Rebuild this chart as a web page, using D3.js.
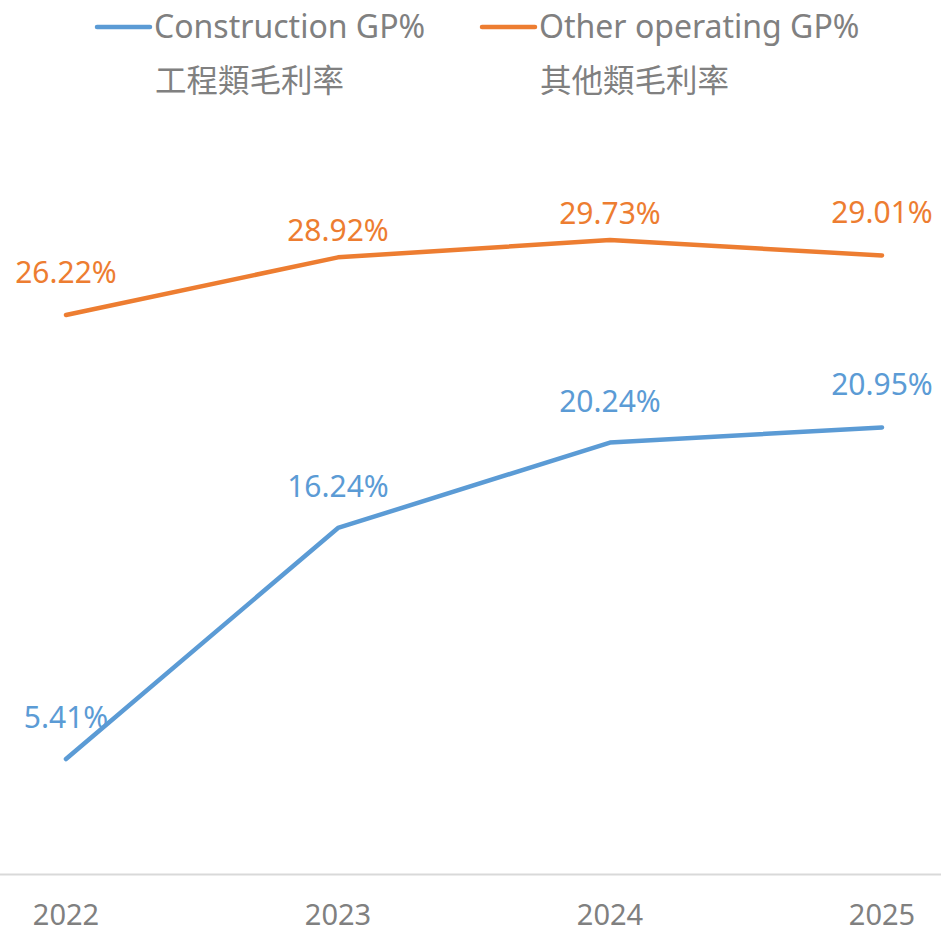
<!DOCTYPE html>
<html>
<head>
<meta charset="utf-8">
<script src="https://cdn.jsdelivr.net/npm/d3@7"></script>
<style>
  html, body { margin: 0; padding: 0; background: #fff; }
  svg { display: block; font-family: "Noto Sans", "Noto Sans CJK TC", sans-serif; }
</style>
</head>
<body>
<svg id="chart" width="941" height="932"></svg>
<script>
var years = ["2022", "2023", "2024", "2025"];
var constructionGP = [5.41, 16.24, 20.24, 20.95];
var otherGP = [26.22, 28.92, 29.73, 29.01];
var seriesNames = ["Construction GP%", "Other operating GP%"];
var seriesNamesZh = ["工程類毛利率", "其他類毛利率"];
var colors = ["#5B9BD5", "#ED7D31"];
// how far each value label sits above its point (px)
var labelLift = [
  [31, 31, 31, 32],
  [32, 16, 16, 32]
];

var width = 941, height = 932;
var svg = d3.select("#chart");

var x = d3.scalePoint().domain(years).range([66, 882]);
var y = d3.scaleLinear().domain([0, 35]).range([874.5, 127.6]);

// x axis: light grey baseline across the full width
svg.append("line")
  .attr("x1", 0).attr("x2", width)
  .attr("y1", y(0)).attr("y2", y(0))
  .attr("stroke", "#d9d9d9").attr("stroke-width", 2);

svg.append("g")
  .selectAll("text")
  .data(years)
  .join("text")
  .attr("x", d => x(d))
  .attr("y", 925)
  .attr("text-anchor", "middle")
  .attr("font-size", 29)
  .attr("fill", "#808080")
  .text(d => d);

var series = [constructionGP, otherGP];
var line = d3.line().x((d, i) => x(years[i])).y(d => y(d));

series.forEach(function (vals, s) {
  svg.append("path")
    .datum(vals)
    .attr("fill", "none")
    .attr("stroke", colors[s])
    .attr("stroke-width", 4.5)
    .attr("stroke-linecap", "round")
    .attr("stroke-linejoin", "round")
    .attr("d", line);

  svg.append("g")
    .selectAll("text")
    .data(vals)
    .join("text")
    .attr("x", (d, i) => x(years[i]))
    .attr("y", (d, i) => y(d) - labelLift[s][i])
    .attr("text-anchor", "middle")
    .attr("font-size", 30)
    .attr("fill", colors[s])
    .text(d => d.toFixed(2) + "%");
});

// legend
var legendX = [97, 482];
var lg = svg.append("g")
  .selectAll("g")
  .data(seriesNames)
  .join("g")
  .attr("transform", (d, i) => `translate(${legendX[i]},0)`);

lg.append("line")
  .attr("x1", 0).attr("x2", 53)
  .attr("y1", 27).attr("y2", 27)
  .attr("stroke", (d, i) => colors[i])
  .attr("stroke-width", 4.5)
  .attr("stroke-linecap", "round");

lg.append("text")
  .attr("x", 57)
  .attr("y", 38)
  .attr("font-size", 32)
  .attr("fill", "#808080")
  .text(d => d);

lg.append("text")
  .attr("x", 58)
  .attr("y", 92)
  .attr("font-size", 31.5)
  .attr("fill", "#808080")
  .attr("font-family", "'Noto Sans CJK TC', sans-serif")
  .text((d, i) => seriesNamesZh[i]);
</script>
</body>
</html>
